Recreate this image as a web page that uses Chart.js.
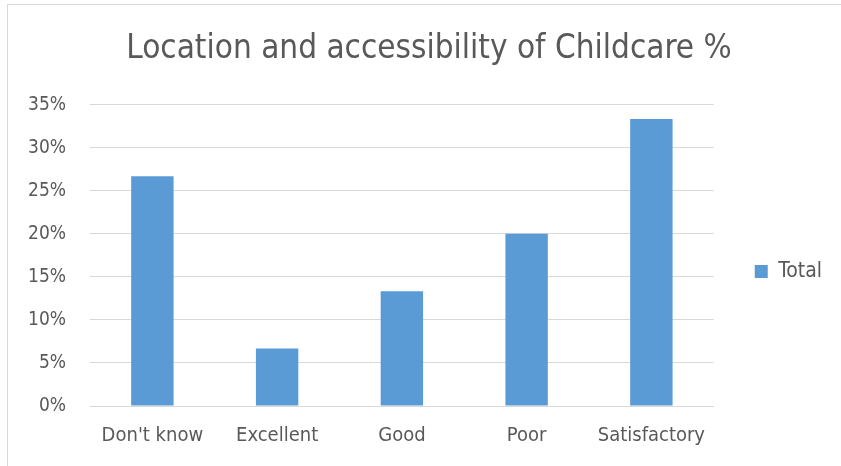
<!DOCTYPE html>
<html>
<head>
<meta charset="utf-8">
<script src="https://cdn.jsdelivr.net/npm/chart.js@4"></script>
<style>
  html, body { margin: 0; padding: 0; background: #fff; }
  #box { position: absolute; left: 0; top: 0; width: 841px; height: 466px; }
  #frame { position: absolute; left: 7px; top: 4px; width: 900px; height: 520px;
           border: 1px solid #d9d9d9; pointer-events: none; }
</style>
</head>
<body>
<div id="box"><canvas id="chart" width="841" height="466"></canvas></div>
<div id="frame"></div>
<script>
const categories = ["Don't know", 'Excellent', 'Good', 'Poor', 'Satisfactory'];
const totalValues = [26.67, 6.67, 13.33, 20.0, 33.33];
const yTicks = [0, 5, 10, 15, 20, 25, 30, 35];

const FONT = '"DejaVu Sans Condensed", "Liberation Sans Narrow", sans-serif';
const TEXT = '#595959';

new Chart(document.getElementById('chart'), {
  type: 'bar',
  data: {
    labels: categories,
    datasets: [{
      label: 'Total',
      data: totalValues,
      backgroundColor: '#5b9bd5',
      borderWidth: 0,
      categoryPercentage: 1,
      barPercentage: 0.34,
    }],
  },
  options: {
    responsive: false,
    animation: false,
    layout: { padding: { left: 26, right: 9, top: 0, bottom: 0 } },
    plugins: {
      title: {
        display: true,
        text: 'Location and accessibility of Childcare %',
        color: TEXT,
        font: { family: FONT, size: 33, weight: 'normal' },
        padding: { top: 30, bottom: 35 },
      },
      legend: {
        position: 'right',
        title: { display: true, text: ' ', font: { size: 10 }, padding: { top: 0, bottom: 65 } },
        labels: {
          color: TEXT,
          font: { family: FONT, size: 21 },
          boxWidth: 13,
          boxHeight: 13,
          padding: 19,
        },
      },
      tooltip: { enabled: false },
    },
    scales: {
      y: {
        min: 0,
        max: 35,
        afterBuildTicks: axis => { axis.ticks = yTicks.map(v => ({ value: v })); },
        afterFit: scale => { scale.width = 64; },
        ticks: {
          color: TEXT,
          font: { family: FONT, size: 19 },
          padding: 24,
          callback: v => v + '%',
        },
        grid: { color: '#d9d9d9', lineWidth: 1, drawTicks: false },
        border: { display: false },
      },
      gap: {
        position: 'right',
        display: true,
        ticks: { display: false },
        grid: { display: false, drawTicks: false },
        border: { display: false },
        afterFit: scale => { scale.width = 22; },
      },
      x: {
        ticks: {
          color: TEXT,
          font: { family: FONT, size: 20 },
          padding: 18,
        },
        grid: { display: false, drawTicks: false },
        border: { color: '#d9d9d9', width: 1 },
      },
    },
  },
});
</script>
</body>
</html>
